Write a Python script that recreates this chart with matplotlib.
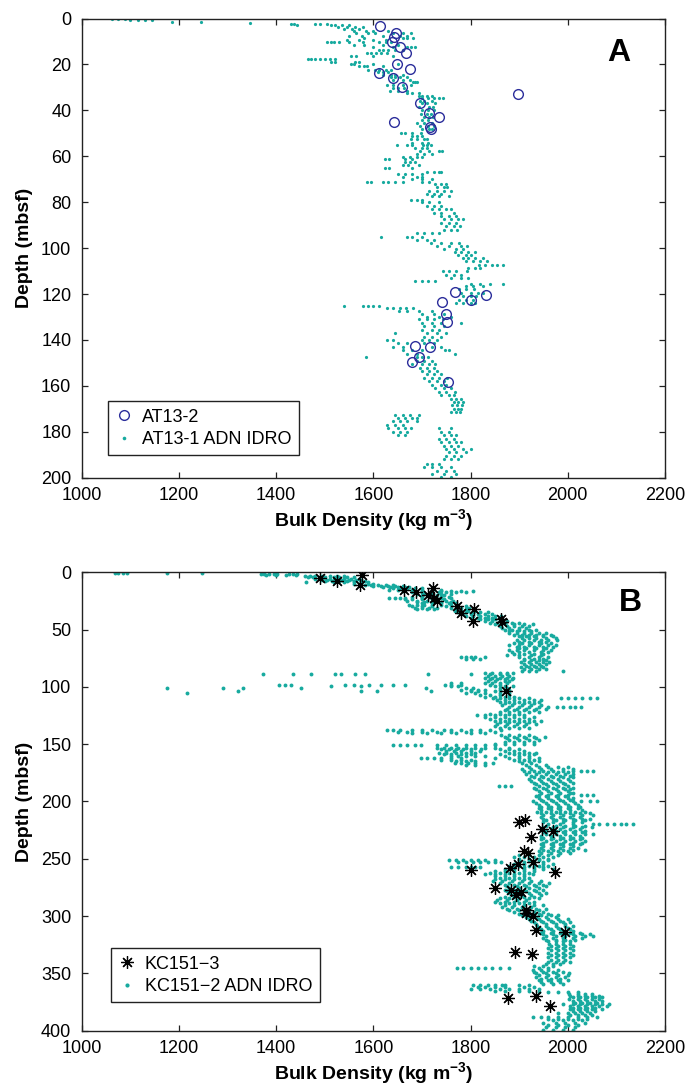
import numpy as np
import matplotlib
matplotlib.use("Agg")
import matplotlib.pyplot as plt
from matplotlib.lines import Line2D

plt.rcParams['font.family'] = ['Liberation Sans', 'DejaVu Sans']
plt.rcParams['mathtext.fontset'] = 'custom'
plt.rcParams['mathtext.rm'] = 'Liberation Sans'
plt.rcParams['mathtext.bf'] = 'Liberation Sans:bold'

# ---------------- Panel A data ----------------
a_core_depth = [3.2, 6.4, 8.0, 10.0, 12.3, 14.8, 19.6, 21.9, 23.6, 25.7, 30.0, 32.8,
                36.8, 41.3, 42.9, 45.1, 47.2, 48.3,
                119.3, 123.5, 122.5, 120.6, 128.8, 132.0, 142.8, 143.2, 147.5, 149.6, 158.4]
a_core_density = [1613, 1647, 1643, 1638, 1655, 1667, 1648, 1675, 1612, 1640, 1658, 1897,
                  1695, 1714, 1736, 1642, 1717, 1718,
                  1768, 1741, 1801, 1832, 1750, 1751, 1686, 1716, 1693, 1679, 1754]

# (depth, densities at that depth) for the AT13-1 ADN IDRO log
a_log_rows = [
    (0.4, [1062, 1075, 1090]), (0.8, [1100, 1115, 1130, 1144]), (1.5, [1185]), (1.7, [1245]),
    (1.9, [1346]), (2.4, [1430, 1436, 1480, 1490, 1505]), (3.0, [1443, 1513, 1521, 1535, 1550]),
    (3.8, [1528, 1545, 1562, 1578]), (4.5, [1540, 1556, 1570]), (5.5, [1560, 1585, 1600, 1630]),
    (6.5, [1565, 1590, 1603, 1640, 1660, 1677]), (7.5, [1550, 1577, 1620, 1655, 1670]),
    (8.4, [1580, 1661, 1670, 1681]), (9.5, [1546, 1570, 1600, 1625]),
    (10.4, [1505, 1512, 1520, 1530, 1550, 1579, 1612, 1625, 1636]), (11.5, [1560, 1580, 1620, 1650]),
    (12.6, [1600, 1640, 1669, 1677, 1685]), (13.8, [1612, 1620, 1630, 1645, 1660]),
    (15.2, [1587, 1595, 1605, 1615, 1628]), (16.2, [1554, 1565, 1600, 1640]),
    (17.8, [1465, 1472, 1480, 1490, 1500, 1510, 1521]), (18.8, [1513, 1521, 1562, 1570]),
    (19.8, [1554, 1560, 1600, 1650]), (20.8, [1570, 1580, 1587, 1620]),
    (22.2, [1590, 1603, 1612, 1625, 1636]), (23.2, [1610, 1620, 1630]),
    (24.4, [1620, 1636, 1645, 1660]), (25.5, [1636, 1645, 1655, 1669]), (26.8, [1640, 1660, 1675]),
    (27.5, [1681, 1686, 1690]), (28.8, [1628, 1640, 1660, 1677]), (30.2, [1640, 1650, 1663]),
    (31.5, [1634, 1650, 1670]), (32.6, [1669, 1680, 1694]), (33.8, [1694, 1700, 1710, 1720]),
    (34.8, [1700, 1712, 1725, 1735, 1743]), (35.8, [1696, 1705, 1720]), (37.0, [1700, 1710, 1727]),
    (38.5, [1694, 1715, 1722]), (40.0, [1700, 1712, 1725]), (41.5, [1698, 1710, 1718]),
    (43.0, [1705, 1715, 1722]), (44.2, [1700, 1712]), (45.5, [1690, 1705, 1720]),
    (46.8, [1695, 1712, 1725]), (48.0, [1700, 1715, 1720]), (50.0, [1657, 1665, 1680, 1698]),
    (51.2, [1680, 1690, 1700]), (52.5, [1677, 1690, 1705, 1710]), (54.0, [1680, 1700, 1712]),
    (55.2, [1649, 1670, 1680, 1702, 1710, 1718]), (56.5, [1686, 1700, 1710]),
    (57.8, [1695, 1715, 1735, 1742]), (59.0, [1690, 1705, 1720]), (60.5, [1660, 1675, 1690, 1700]),
    (61.2, [1624, 1632, 1665, 1680]), (62.5, [1665, 1675, 1685]), (63.8, [1661, 1672, 1694]),
    (65.2, [1624, 1632, 1680]), (66.7, [1710, 1725, 1735, 1739]), (67.5, [1650, 1665, 1680, 1700]),
    (68.8, [1660, 1690, 1700]), (70.0, [1680, 1700, 1720]),
    (71.0, [1587, 1595, 1620, 1630, 1645, 1661, 1700, 1715]), (72.0, [1727, 1740, 1750]),
    (73.5, [1730, 1745, 1751]), (75.0, [1715, 1730, 1745, 1759]), (76.5, [1710, 1725, 1740]),
    (77.5, [1720, 1735, 1755]), (79.0, [1677, 1690, 1700]), (80.0, [1700, 1715, 1735]),
    (81.5, [1710, 1725, 1740]), (83.0, [1720, 1735, 1750, 1760]), (84.5, [1725, 1740, 1765]),
    (86.0, [1740, 1755, 1770]), (87.5, [1745, 1760, 1775, 1784]), (89.0, [1740, 1755, 1770]),
    (90.5, [1750, 1765, 1778]), (92.0, [1745, 1760, 1772]), (93.5, [1690, 1705, 1720, 1735]),
    (95.0, [1616, 1669, 1680, 1700]), (96.4, [1690, 1710, 1725]), (97.8, [1718, 1740, 1760, 1776]),
    (99.0, [1730, 1755, 1780, 1792]), (100.5, [1745, 1770, 1785]), (101.8, [1767, 1780, 1795, 1809]),
    (103.0, [1775, 1790, 1800]), (104.5, [1784, 1795, 1810, 1825]), (105.8, [1790, 1805, 1820, 1833]),
    (107.2, [1817, 1830, 1845, 1855, 1866]), (108.5, [1795, 1810, 1820]),
    (110.0, [1743, 1755, 1770, 1792]), (111.5, [1750, 1765, 1780]), (113.0, [1760, 1780, 1795]),
    (114.5, [1686, 1700, 1712, 1727]), (115.5, [1801, 1820, 1840, 1866]), (116.7, [1790, 1805, 1825]),
    (118.0, [1776, 1790, 1808]), (119.5, [1780, 1800, 1815, 1825]), (121.0, [1785, 1800, 1812]),
    (122.5, [1776, 1790, 1805]), (124.0, [1770, 1785, 1800, 1810]),
    (125.2, [1540, 1579, 1590, 1600, 1612]), (126.0, [1628, 1640, 1655, 1668, 1681]),
    (127.3, [1653, 1670, 1694, 1720]), (128.5, [1700, 1725, 1745]), (129.8, [1710, 1735, 1760]),
    (131.0, [1694, 1710, 1725, 1743]), (132.5, [1700, 1720, 1740, 1780]), (134.0, [1705, 1725, 1745]),
    (135.5, [1700, 1720, 1735]), (137.0, [1645, 1710, 1730, 1750]), (138.5, [1705, 1720, 1740]),
    (140.0, [1628, 1640, 1700, 1715, 1730]), (141.5, [1650, 1669, 1705, 1725]),
    (143.0, [1640, 1660, 1720, 1740]), (144.5, [1660, 1680, 1700, 1747, 1755]),
    (146.0, [1670, 1690, 1768]), (147.5, [1585, 1690, 1700, 1712]), (149.0, [1690, 1705, 1720]),
    (150.5, [1680, 1700, 1715, 1727]), (152.0, [1695, 1710, 1725]), (153.5, [1700, 1715, 1730]),
    (155.0, [1710, 1725, 1740]), (156.5, [1705, 1720, 1735, 1751]), (158.0, [1715, 1730, 1745]),
    (159.5, [1720, 1740, 1750]), (161.0, [1727, 1745, 1760]), (162.5, [1735, 1750, 1768]),
    (164.0, [1740, 1755, 1765]), (165.5, [1760, 1770, 1780]), (167.0, [1765, 1775, 1784]),
    (168.5, [1762, 1772, 1782]), (170.0, [1765, 1775, 1780]), (171.5, [1760, 1770, 1778]),
    (172.8, [1645, 1660, 1675, 1694]), (174.0, [1650, 1665, 1680, 1690]),
    (175.5, [1640, 1655, 1670, 1690]), (177.0, [1628, 1645, 1660]),
    (178.5, [1630, 1650, 1665, 1677, 1735, 1760]), (180.0, [1640, 1655, 1670, 1740, 1755]),
    (181.5, [1650, 1665, 1745, 1760, 1770]), (183.0, [1735, 1750, 1765]),
    (184.5, [1740, 1755, 1770, 1780]), (186.0, [1745, 1760, 1775]),
    (187.5, [1750, 1765, 1785, 1801]), (189.0, [1755, 1770, 1790]), (190.5, [1750, 1765, 1780]),
    (192.0, [1745, 1760, 1775]), (194.0, [1710, 1720, 1735]), (195.5, [1705, 1720, 1740, 1760]),
    (197.0, [1730, 1750, 1765]), (198.5, [1720, 1745, 1770]), (199.5, [1740, 1760]),
]

# ---------------- Panel B data ----------------
b_core_depth = [5.2, 7.3, 2.6, 11.1, 15.2, 17.2, 13.7, 20.1, 22.2, 24.8, 29.7, 35.6, 32.1,
                42.9, 40.8, 43.7, 103.8,
                218.0, 216.0, 224.4, 225.8, 231.0, 243.0, 244.7, 252.8, 254.3, 258.0, 259.5,
                261.8, 275.5, 277.5, 279.2, 281.9, 294.3, 297.2, 300.1, 312.3, 314.1, 331.2,
                333.2, 371.8, 369.8, 378.8]
b_core_density = [1490, 1525, 1577, 1573, 1663, 1687, 1723, 1713, 1724, 1731, 1772, 1781, 1808,
                  1804, 1863, 1865, 1873,
                  1900, 1912, 1947, 1969, 1924, 1909, 1918, 1928, 1898, 1881, 1801,
                  1973, 1851, 1884, 1904, 1894, 1914, 1914, 1928, 1935, 1994, 1892,
                  1927, 1877, 1934, 1963]

# (depth, densities at that depth) for the KC151-2 ADN IDRO log
b_log_rows = [
    (0.5, [1068, 1075, 1085, 1093]), (1.0, [1175, 1247]),
    (1.5, [1369, 1375, 1385, 1395, 1402, 1426, 1435, 1443]), (2.5, [1380, 1400, 1420, 1440]),
    (3.5, [1459, 1470, 1480, 1495, 1510, 1525, 1540]), (4.5, [1465, 1475, 1490, 1500, 1520, 1530, 1545, 1560]),
    (5.5, [1480, 1495, 1510, 1525, 1540, 1555, 1570]), (6.5, [1495, 1505, 1520, 1535, 1550, 1565, 1575]),
    (7.5, [1500, 1515, 1530, 1545, 1560, 1575, 1583]), (8.7, [1461, 1520, 1540, 1560, 1575, 1590]),
    (10.0, [1560, 1575, 1590, 1600]), (11.0, [1583, 1595, 1610, 1625, 1640]),
    (12.0, [1600, 1615, 1630, 1645, 1660]), (13.0, [1620, 1635, 1650, 1665, 1673]),
    (14.0, [1640, 1655, 1670, 1685, 1700]), (15.2, [1632, 1650, 1665, 1680, 1700, 1720, 1740]),
    (16.3, [1660, 1680, 1700, 1720, 1740, 1760, 1780, 1805]), (17.5, [1680, 1700, 1720, 1735, 1750, 1770, 1790]),
    (18.8, [1690, 1705, 1720, 1740, 1760]), (20.0, [1700, 1715, 1730, 1745]),
    (21.2, [1680, 1700, 1720, 1740, 1755]), (22.4, [1632, 1645, 1655, 1665, 1700, 1720, 1740, 1760]),
    (23.5, [1665, 1680, 1700, 1720, 1745]), (24.8, [1670, 1690, 1710, 1730, 1750, 1764]),
    (26.0, [1690, 1705, 1720, 1740, 1760]), (27.2, [1700, 1720, 1740, 1755, 1770]),
    (28.3, [1673, 1690, 1705, 1720, 1739, 1760]), (29.5, [1680, 1700, 1720, 1750, 1770, 1790]),
    (30.8, [1685, 1700, 1715, 1731, 1760, 1780, 1797]), (32.0, [1690, 1710, 1725, 1770, 1790]),
    (33.5, [1768, 1780, 1795, 1810]), (35.0, [1775, 1790, 1805, 1820, 1835]),
    (36.5, [1785, 1800, 1815, 1830, 1845]), (38.0, [1790, 1805, 1820, 1835, 1850, 1863]),
    (39.5, [1800, 1815, 1830, 1845, 1860]), (41.0, [1820, 1835, 1850, 1865]),
    (42.5, [1830, 1845, 1860, 1875]), (44.0, [1840, 1855, 1870, 1885, 1900]),
    (45.5, [1850, 1870, 1890, 1910, 1928]), (47.0, [1860, 1875, 1890, 1905, 1920]),
    (48.5, [1865, 1880, 1900, 1915]), (50.0, [1870, 1885, 1900, 1920, 1935]),
    (51.5, [1880, 1895, 1910, 1925]), (53.0, [1879, 1895, 1910, 1925, 1940, 1955]),
    (54.5, [1890, 1905, 1920, 1935, 1950, 1965]), (56.0, [1900, 1915, 1930, 1950, 1970]),
    (57.5, [1905, 1920, 1935, 1955, 1975]), (59.0, [1895, 1910, 1930, 1945, 1960, 1978]),
    (60.5, [1900, 1920, 1940, 1955]), (62.0, [1890, 1905, 1925, 1945, 1965]),
    (63.5, [1880, 1900, 1920, 1940, 1960, 1975]), (65.0, [1895, 1910, 1930, 1950, 1970]),
    (66.5, [1900, 1915, 1935, 1955]), (68.0, [1880, 1895, 1910, 1930, 1950, 1965]),
    (69.5, [1885, 1900, 1920, 1945, 1960]), (71.0, [1890, 1910, 1930, 1950]),
    (72.5, [1875, 1900, 1925, 1945]), (74.0, [1780, 1790, 1800, 1810, 1830, 1900, 1920, 1940, 1960]),
    (75.5, [1790, 1805, 1820, 1910, 1930, 1950]), (77.0, [1910, 1925, 1940, 1955]),
    (78.5, [1904, 1920, 1935, 1950, 1961]), (80.0, [1910, 1925, 1940, 1955]),
    (81.5, [1915, 1930, 1945]), (83.0, [1904, 1920, 1935, 1950]), (84.5, [1910, 1925, 1940, 1955]),
    (86.0, [1905, 1920, 1935, 1990]), (87.5, [1830, 1845, 1860, 1875, 1887]),
    (89.0, [1373, 1435, 1472, 1521, 1533, 1562, 1583, 1713, 1801, 1840, 1860, 1875]),
    (90.5, [1835, 1850, 1865, 1880]), (92.0, [1830, 1845, 1860, 1875, 1887]),
    (93.5, [1840, 1855, 1870, 1885]), (95.0, [1835, 1850, 1870, 1880]),
    (96.5, [1760, 1780, 1830, 1845, 1860, 1875]),
    (98.0, [1406, 1418, 1430, 1541, 1560, 1591, 1616, 1640, 1665, 1747, 1760, 1780, 1840, 1860]),
    (99.5, [1513, 1575, 1760, 1775, 1850, 1870, 1887]),
    (101.0, [1175, 1290, 1332, 1451, 1708, 1790, 1805, 1860, 1875]),
    (102.5, [1780, 1800, 1815, 1830, 1860, 1880]), (104.0, [1322, 1574, 1607, 1719, 1800, 1815, 1850, 1870]),
    (105.5, [1216, 1790, 1810, 1830, 1860, 1880]), (107.0, [1820, 1840, 1860, 1880]),
    (108.5, [1830, 1850, 1870, 1890]),
    (110.0, [1846, 1860, 1880, 1900, 1920, 1986, 2000, 2015, 2030, 2045, 2060]),
    (111.5, [1855, 1870, 1890, 1910, 1930, 1945]), (113.0, [1860, 1880, 1900, 1920, 1940]),
    (114.5, [1870, 1890, 1910, 1930]), (116.0, [1865, 1885, 1905, 1925, 1945]),
    (117.5, [1880, 1900, 1920, 1940, 1960, 1978, 1990, 2005, 2015, 2027]),
    (119.0, [1875, 1895, 1915, 1935, 1955]), (120.5, [1870, 1890, 1910, 1930]),
    (122.0, [1860, 1880, 1900, 1920, 1940]), (123.5, [1840, 1860, 1880, 1900]),
    (125.0, [1814, 1830, 1850, 1870, 1890, 1910]), (126.5, [1830, 1850, 1870, 1890, 1910, 1930]),
    (128.0, [1840, 1860, 1880, 1900, 1920]), (129.5, [1850, 1870, 1890, 1910, 1930, 1945]),
    (131.0, [1860, 1880, 1900, 1920]), (132.5, [1855, 1875, 1895, 1915, 1935]),
    (134.0, [1850, 1870, 1890, 1910]), (135.5, [1860, 1880, 1900, 1920]),
    (137.6, [1628, 1640, 1655, 1680, 1700, 1720, 1745, 1760, 1780, 1800, 1820, 1840, 1862]),
    (139.0, [1650, 1670, 1700, 1730, 1760, 1790, 1820, 1850]),
    (140.5, [1680, 1710, 1740, 1770, 1800, 1830]), (142.0, [1862, 1880, 1900, 1920]),
    (143.5, [1870, 1890, 1910, 1930, 1953]), (145.0, [1875, 1895, 1915, 1935]),
    (146.5, [1880, 1900, 1920, 1940]), (148.0, [1870, 1890, 1910, 1930]),
    (150.0, [1850, 1870, 1890, 1910, 1930]),
    (151.0, [1640, 1655, 1670, 1685, 1698, 1731, 1750, 1770, 1790, 1810, 1830, 1850]),
    (153.0, [1731, 1745, 1760, 1775, 1790, 1810, 1830, 1850, 1880]),
    (154.5, [1740, 1755, 1770, 1785, 1800, 1821, 1860, 1880, 1900]),
    (156.0, [1750, 1765, 1780, 1800, 1820, 1870, 1890, 1910]),
    (157.5, [1735, 1750, 1770, 1790, 1810, 1880, 1900, 1920, 1935]),
    (159.0, [1745, 1760, 1780, 1800, 1860, 1890, 1910, 1930]),
    (160.5, [1760, 1775, 1790, 1810, 1830, 1870, 1900, 1920]),
    (162.0, [1698, 1710, 1725, 1740, 1760, 1780, 1850, 1880, 1900, 1920, 1940]),
    (163.5, [1740, 1760, 1780, 1800, 1890, 1910, 1930]), (165.0, [1770, 1790, 1810, 1900, 1920, 1940]),
    (166.8, [1768, 1780, 1795, 1810, 1830, 1846, 1905, 1925]),
    (168.5, [1790, 1810, 1830, 1915, 1935, 1955]), (170.0, [1920, 1940, 1960, 1980, 2000]),
    (171.5, [1905, 1925, 1945, 1965, 1990, 2010]),
    (173.0, [1910, 1930, 1950, 1970, 1990, 2011, 2027, 2040, 2052]),
    (174.5, [1920, 1940, 1960, 1980, 2000]), (176.0, [1915, 1935, 1955, 1975, 1995, 2010]),
    (177.5, [1925, 1945, 1965, 1985, 2005]), (179.0, [1930, 1950, 1970, 1990, 2010]),
    (180.5, [1920, 1940, 1960, 1980, 2000]), (182.0, [1925, 1945, 1965, 1985, 2005]),
    (183.5, [1930, 1950, 1970, 1990, 2010]), (185.0, [1935, 1955, 1975, 1995]),
    (186.6, [1858, 1870, 1883, 1940, 1960, 1980, 2000]), (188.0, [1930, 1950, 1970, 1990, 2010]),
    (189.5, [1935, 1955, 1975, 1995, 2005]), (191.0, [1940, 1960, 1980, 2000]),
    (192.5, [1945, 1965, 1985, 2005, 2010]), (194.0, [1940, 1960, 1980, 2000, 2027, 2040, 2052]),
    (195.5, [1935, 1955, 1975, 1995]), (197.0, [1940, 1960, 1980, 2000, 2010]),
    (198.5, [1945, 1965, 1985, 2005]), (200.0, [1928, 1950, 1970, 1990, 2010, 2027, 2045, 2060]),
    (201.5, [1935, 1955, 1975, 1995, 2015]), (203.0, [1940, 1960, 1980, 2000, 2020]),
    (204.5, [1945, 1965, 1985, 2005, 2025]), (206.0, [1940, 1960, 1980, 2000, 2020]),
    (207.5, [1945, 1965, 1985, 2005, 2030]), (209.0, [1937, 1955, 1975, 1995, 2015, 2035]),
    (210.5, [1945, 1965, 1985, 2005, 2025, 2045]), (212.0, [1950, 1970, 1990, 2010, 2030, 2051]),
    (213.5, [1945, 1965, 1985, 2005, 2025]), (215.0, [1950, 1970, 1990, 2010, 2030, 2045]),
    (216.5, [1955, 1975, 1995, 2015, 2035]), (218.0, [1950, 1970, 1990, 2010, 2030]),
    (219.4, [1960, 1985, 2010, 2051, 2065, 2080, 2095, 2110, 2120, 2134]),
    (221.0, [1955, 1975, 1995, 2015, 2035]), (222.5, [1950, 1970, 1990, 2010, 2030, 2050]),
    (224.0, [1945, 1965, 1985, 2005, 2025]), (225.5, [1955, 1975, 1995, 2015, 2035]),
    (227.0, [1950, 1970, 1990, 2010, 2030]), (228.5, [1955, 1975, 1995, 2015, 2035, 2052]),
    (230.0, [1945, 1965, 1985, 2005, 2025]), (231.5, [1950, 1970, 1990, 2010, 2030]),
    (233.0, [1945, 1965, 1985, 2005, 2025]), (234.5, [1955, 1975, 1995, 2015, 2035]),
    (236.0, [1950, 1970, 1990, 2010, 2030]), (237.5, [1945, 1965, 1985, 2005, 2025]),
    (239.0, [1950, 1970, 1990, 2010]), (240.5, [1945, 1965, 1985, 2005, 2020]),
    (242.0, [1950, 1970, 1990, 2010, 2035]), (243.5, [1940, 1960, 1980, 2000]),
    (245.0, [1945, 1965, 1985, 2005]), (247.0, [1900, 1920, 1940, 1960, 1980]),
    (248.5, [1890, 1910, 1930, 1950, 1970]), (250.0, [1900, 1920, 1940, 1960]),
    (251.5, [1756, 1770, 1785, 1800, 1815, 1830, 1850, 1900, 1920, 1940, 1960]),
    (253.0, [1775, 1790, 1805, 1820, 1835, 1850, 1862, 1910, 1930, 1950]),
    (254.5, [1890, 1910, 1930, 1950, 1970]), (256.0, [1880, 1900, 1920, 1940, 1960]),
    (257.5, [1760, 1775, 1790, 1800, 1810, 1820, 1890, 1910, 1930, 1950]),
    (259.0, [1870, 1890, 1910, 1930, 1950, 1970]), (260.5, [1850, 1870, 1890, 1910, 1930]),
    (262.0, [1840, 1860, 1880, 1900, 1920]), (263.5, [1830, 1850, 1870, 1890, 1910, 1928]),
    (265.0, [1850, 1870, 1890, 1910]), (266.5, [1860, 1880, 1900, 1920]),
    (268.0, [1850, 1870, 1890, 1910]), (269.5, [1846, 1865, 1885, 1905, 1925, 1945]),
    (271.0, [1860, 1880, 1900, 1920, 1940, 1961]), (272.5, [1870, 1890, 1910, 1930, 1950]),
    (274.0, [1875, 1895, 1915, 1935, 1955]), (275.5, [1880, 1900, 1920, 1940]),
    (277.0, [1870, 1890, 1910, 1930, 1950]), (278.5, [1875, 1895, 1915, 1935]),
    (280.0, [1880, 1900, 1920, 1940, 1955]), (281.5, [1885, 1905, 1925, 1945]),
    (283.0, [1870, 1890, 1910, 1930]), (284.5, [1860, 1880, 1900, 1920, 1940]),
    (286.0, [1855, 1875, 1895, 1915]), (287.5, [1850, 1870, 1890, 1910, 1930]),
    (289.0, [1860, 1880, 1900, 1920]), (290.5, [1870, 1890, 1910, 1930, 1950]),
    (292.0, [1865, 1885, 1905, 1925]), (293.5, [1875, 1895, 1915, 1935, 1955]),
    (295.0, [1880, 1900, 1920, 1940]), (296.5, [1890, 1910, 1930, 1950]),
    (298.0, [1900, 1920, 1940, 1960]), (299.5, [1905, 1925, 1945, 1965, 1980]),
    (301.0, [1915, 1935, 1955, 1975]), (302.5, [1920, 1940, 1960, 1980, 2000]),
    (304.0, [1925, 1945, 1965, 1985]), (305.5, [1930, 1950, 1970, 1990, 2005]),
    (307.0, [1935, 1955, 1975, 1995]), (308.5, [1937, 1955, 1975, 1995, 2011]),
    (310.0, [1940, 1960, 1980, 2000]), (311.5, [1945, 1965, 1985, 2005]),
    (313.0, [1950, 1970, 1990, 2010]), (314.5, [1945, 1965, 1985, 2005, 2025]),
    (316.0, [1950, 1970, 1990, 2010, 2030, 2045]), (317.5, [1955, 1975, 1995, 2015, 2035, 2052]),
    (319.0, [1950, 1970, 1990, 2010, 2030]), (320.5, [1955, 1975, 1995, 2015]),
    (322.0, [1960, 1975, 1990, 2005]), (324.0, [1961, 1975, 1990, 2005]),
    (326.0, [1965, 1980, 1995, 2011]), (328.0, [1960, 1975, 1990, 2005]),
    (330.0, [1965, 1980, 1995, 2010]), (332.0, [1960, 1975, 1990, 2005]),
    (334.0, [1965, 1980, 1995, 2010]), (336.0, [1960, 1975, 1990, 2005]),
    (338.0, [1965, 1980, 1995]), (340.0, [1960, 1975, 1990, 2005]), (342.0, [1955, 1970, 1985]),
    (344.0, [1930, 1950, 1970]),
    (345.7, [1772, 1785, 1800, 1815, 1830, 1845, 1860, 1879, 1940, 1960]),
    (347.0, [1928, 1945, 1960, 1980]), (348.5, [1930, 1950, 1970, 1990]),
    (350.0, [1935, 1955, 1975, 2002]), (351.5, [1940, 1960, 1980, 2000]),
    (353.0, [1935, 1955, 1975, 1995]), (354.5, [1945, 1965, 1985]),
    (356.0, [1940, 1960, 1980, 2000]), (357.5, [1945, 1965, 1985]), (359.0, [1950, 1970, 1990]),
    (360.5, [1805, 1820, 1835, 1850, 1865, 1871, 1900, 1920]),
    (362.0, [1815, 1830, 1850, 1870, 1910, 1930]),
    (363.5, [1800, 1820, 1840, 1860, 1880, 1900, 1920, 1940]), (365.0, [1850, 1870, 1900, 1920]),
    (366.5, [1940, 1960, 1980, 2000, 2020]), (368.0, [2002, 2020, 2035, 2050]),
    (369.5, [2005, 2020, 2035, 2050, 2065]), (371.0, [2010, 2025, 2040, 2055, 2070]),
    (372.5, [2002, 2020, 2035, 2050, 2065]), (374.0, [2010, 2025, 2040, 2055, 2070]),
    (375.5, [2015, 2030, 2045, 2060]), (377.0, [1990, 2010, 2025, 2040, 2055, 2070, 2085]),
    (378.5, [2005, 2020, 2035, 2050, 2065, 2080]), (380.0, [2010, 2025, 2040, 2055]),
    (381.5, [2005, 2020, 2035, 2050, 2070]), (383.0, [2010, 2025, 2040, 2055]),
    (384.5, [1980, 2000, 2015, 2030, 2045]), (386.0, [2005, 2020, 2035, 2050]),
    (387.8, [1928, 1945, 1960, 1980, 2000, 2020, 2040, 2060]),
    (389.5, [1960, 1980, 2000, 2020, 2040]), (391.0, [1970, 1990, 2010, 2030]),
    (393.0, [1950, 1975, 1995, 2015, 2035]), (395.0, [1960, 1980, 2000, 2020]),
    (397.0, [1955, 1975, 1995, 2015]), (399.0, [1950, 1970, 1990, 2010]),
]

x_ticks = [1000, 1200, 1400, 1600, 1800, 2000, 2200]
a_y_ticks = [0, 20, 40, 60, 80, 100, 120, 140, 160, 180, 200]
b_y_ticks = [0, 50, 100, 150, 200, 250, 300, 350, 400]


def flatten(rows):
    d = [dep for dep, vals in rows for _ in vals]
    r = [v for dep, vals in rows for v in vals]
    return np.array(r), np.array(d)


TEAL = '#17aa9f'
NAVY = '#2b2d9b'

fig = plt.figure(figsize=(6.85, 10.91), dpi=100)
axA = fig.add_axes([0.1193, 0.5621, 0.8515, 0.4209])
axB = fig.add_axes([0.1193, 0.0553, 0.8515, 0.4202])


def style(ax, ymax, yticks):
    ax.set_xlim(1000, 2200)
    ax.set_ylim(ymax, 0)
    ax.set_xticks(x_ticks)
    ax.set_yticks(yticks)
    ax.tick_params(direction='in', length=4.5, width=0.9, labelsize=13,
                   top=True, right=True, color='#222222')
    ax.tick_params(axis='x', pad=6.5)
    ax.tick_params(axis='y', pad=7.5)
    for s in ax.spines.values():
        s.set_linewidth(1.0)
        s.set_color('#222222')
    ax.set_xlabel(r'Bulk Density (kg m$^{\mathbf{-3}}$)', fontsize=14, fontweight='bold', labelpad=2.5)
    ax.set_ylabel('Depth (mbsf)', fontsize=14, fontweight='bold', labelpad=6)


# Panel A
xa, ya = flatten(a_log_rows)
axA.plot(xa, ya, linestyle='none', marker='o', markersize=2.3, markeredgewidth=0,
         color=TEAL, label='AT13-1 ADN IDRO', zorder=2)
axA.plot(a_core_density, a_core_depth, linestyle='none', marker='o', markersize=7,
         markerfacecolor='none', markeredgecolor=NAVY, markeredgewidth=1.0,
         label='AT13-2', zorder=3)
style(axA, 200, a_y_ticks)
axA.text(0.921, 0.925, 'A', transform=axA.transAxes, fontsize=23, fontweight='bold',
         ha='center', va='center')
hA = [Line2D([], [], linestyle='none', marker='o', markersize=7, markerfacecolor='none',
             markeredgecolor=NAVY, markeredgewidth=1.0),
      Line2D([], [], linestyle='none', marker='o', markersize=2.6, markeredgewidth=0, color=TEAL)]
legA = axA.legend(hA, ['AT13-2', 'AT13-1 ADN IDRO'], loc='lower left',
                  bbox_to_anchor=(0.045, 0.049), borderaxespad=0, fontsize=13,
                  frameon=True, fancybox=False, edgecolor='#222222', framealpha=1,
                  handlelength=1.0, handletextpad=0.5, borderpad=0.4, labelspacing=0.3)
legA.get_frame().set_linewidth(1.0)

# Panel B
xb, yb = flatten(b_log_rows)
axB.plot(xb, yb, linestyle='none', marker='o', markersize=2.8, markeredgewidth=0,
         color=TEAL, label='KC151\u22122 ADN IDRO', zorder=2)
axB.plot(b_core_density, b_core_depth, linestyle='none', marker=(8, 2, 0), markersize=9,
         color='black', markeredgewidth=0.9, label='KC151\u22123', zorder=3)
style(axB, 400, b_y_ticks)
axB.text(0.94, 0.933, 'B', transform=axB.transAxes, fontsize=23, fontweight='bold',
         ha='center', va='center')
hB = [Line2D([], [], linestyle='none', marker=(8, 2, 0), markersize=9, color='black',
             markeredgewidth=0.9),
      Line2D([], [], linestyle='none', marker='o', markersize=3.0, markeredgewidth=0, color=TEAL)]
legB = axB.legend(hB, ['KC151\u22123', 'KC151\u22122 ADN IDRO'], loc='lower left',
                  bbox_to_anchor=(0.0495, 0.062), borderaxespad=0, fontsize=13,
                  frameon=True, fancybox=False, edgecolor='#222222', framealpha=1,
                  handlelength=1.0, handletextpad=0.5, borderpad=0.4, labelspacing=0.3)
legB.get_frame().set_linewidth(1.0)

fig.savefig('out.png', dpi=100)
